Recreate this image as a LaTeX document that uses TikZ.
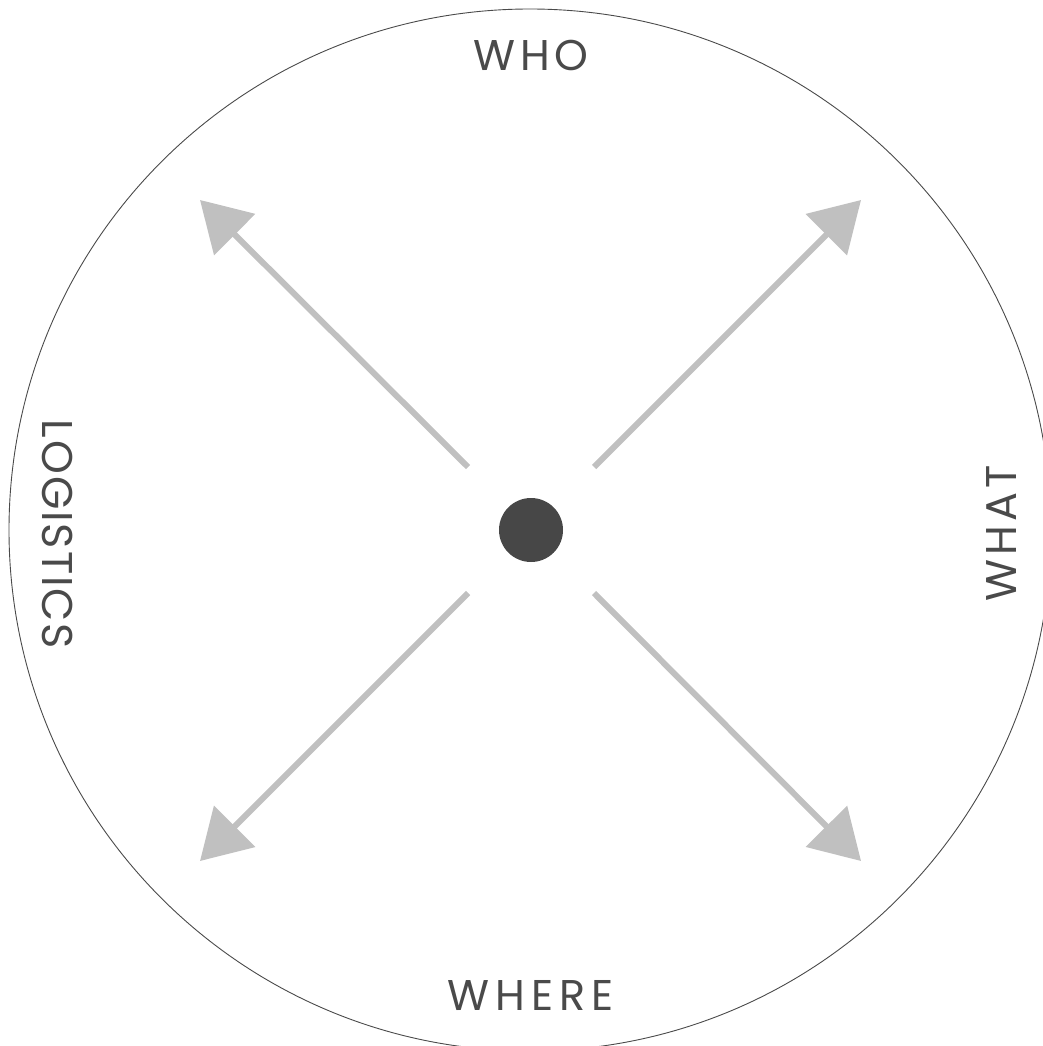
\documentclass[tikz,border=0pt]{standalone}
\usepackage{fontspec}
\setmainfont{Poppins}[LetterSpace=10]
\newfontfamily\tightfont{Poppins}[LetterSpace=4.5]
\newfontfamily\widefont{Poppins}[LetterSpace=14]
\usetikzlibrary{arrows.meta}
\definecolor{arrowgray}{HTML}{C0C0C0}
\definecolor{textgray}{HTML}{4A4A4A}
\definecolor{dotgray}{HTML}{474747}
\tikzset{
  ray/.style={draw=arrowgray, line width=6pt, -{Triangle[length=49pt,width=57pt]}},
  label/.style={text=textgray, font=\fontsize{43}{43}\selectfont, inner sep=0pt},
  ring/.style={draw=textgray, line width=0.9pt},
}
\begin{document}
\begin{tikzpicture}[x=1pt,y=-1pt]
\useasboundingbox (0,0) rectangle (1043,1046);
\clip (0,0) rectangle (1043,1046);
\fill[white] (0,0) rectangle (1043,1046);
\draw[ring] (530,530) circle (521);
\node[circle, fill=dotgray, minimum size=64pt, inner sep=0pt] (c) at (531,530) {};
\coordinate (s1) at (468,467);
\coordinate (s2) at (594,467);
\coordinate (s3) at (468,593);
\coordinate (s4) at (594,593);
\coordinate (t1) at (200,200);
\coordinate (t2) at (861,200);
\coordinate (t3) at (200,861);
\coordinate (t4) at (861,861);
\draw[ray] (s1) -- (t1);
\draw[ray] (s2) -- (t2);
\draw[ray] (s3) -- (t3);
\draw[ray] (s4) -- (t4);
\node[label] (who) at (531,55.5) {WHO};
\node[label, font=\widefont\fontsize{43}{43}\selectfont] (where) at (531,995.5) {WHERE};
\node[label, font=\tightfont\fontsize{43}{43}\selectfont, rotate=-90] (log) at (57.5,534.5) {LOGISTICS};
\node[label, rotate=90] (what) at (1002,533.5) {WHAT};
\end{tikzpicture}
\end{document}
